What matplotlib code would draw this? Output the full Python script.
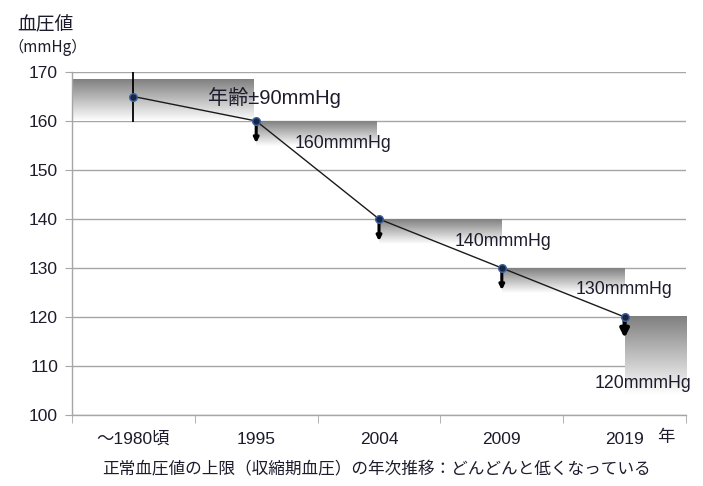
import numpy as np
import matplotlib
matplotlib.use("Agg")
import matplotlib.pyplot as plt

# ---- data ----
categories = ["～1980頃", "1995", "2004", "2009", "2019"]
values = [165, 160, 140, 130, 120]
first_err = 5.2
band_labels = ["年齢±90mmHg", "160mmmHg", "140mmmHg", "130mmmHg", "120mmmHg"]
band_depth = [8.5, 5.0, 5.0, 5.0, 16.0]   # how far the shaded band extends down
arrow_len = [4.5, 4.5, 4.5, 4.3]          # arrows at 1995..2019
y_ticks = [100, 110, 120, 130, 140, 150, 160, 170]
ylabel_main = "血圧値"
ylabel_unit = "（mmHg）"
xunit = "年"
caption = "正常血圧値の上限（収縮期血圧）の年次推移：どんどんと低くなっている"

CJK = ["Noto Sans CJK JP", "DejaVu Sans"]
LAT = ["Liberation Sans", "Noto Sans CJK JP", "DejaVu Sans"]
TXT = "#1c1c2c"

fig = plt.figure(figsize=(7.03, 4.86), dpi=100)
ax = fig.add_axes([72/703, 1-415/486, (686-72)/703, (415-72)/486])

x = np.arange(len(categories))
xmin, xmax = -0.5, len(categories) - 0.5

# gradient bands
grad = np.linspace(0.50, 1.0, 256).reshape(-1, 1)
band_x = [(xmin, 0.98), (1.0, 1.98), (2.0, 3.0), (3.0, 4.0), (4.0, xmax)]
band_top = [168.4] + values[1:]
for (x0, x1), top, d in zip(band_x, band_top, band_depth):
    ax.imshow(grad, cmap="gray", vmin=0, vmax=1, aspect="auto",
              extent=[x0, x1, top - d, top], origin="upper", zorder=1,
              interpolation="bilinear")

# grid
for yv in y_ticks:
    ax.axhline(yv, color="#a6a6a6", lw=1.0, zorder=0.5)

# line + markers
ax.plot(x, values, color="#1a1a1a", lw=1.0, zorder=3)
ax.vlines(x[0], values[0] - first_err, values[0] + first_err, color="black", lw=1.3, zorder=3)
ax.plot(x, values, ls="none", marker="o", ms=5.5, mfc="#1a2540", mec="#3b63a8", mew=1.0, zorder=5)

# arrows
for i, L in enumerate(arrow_len):
    xi = x[i + 1]
    yi = values[i + 1]
    big = (i == len(arrow_len) - 1)
    ax.annotate("", xy=(xi, yi - L), xytext=(xi, yi),
                arrowprops=dict(arrowstyle="-|>", color="black",
                                lw=3.0 if big else 2.2,
                                mutation_scale=12 if big else 7,
                                shrinkA=0, shrinkB=0), zorder=4)

# band labels
label_pos = [(0.607, 164.7), (1.316, 155.5), (2.619, 135.5), (3.604, 125.7), (3.759, 106.5)]
for i, ((lx, ly), t) in enumerate(zip(label_pos, band_labels)):
    ax.text(lx, ly, t, ha="left", va="center", fontsize=14.5 if i == 0 else 12.8,
            family=LAT, color=TXT, zorder=6)

ax.set_xlim(xmin, xmax)
ax.set_ylim(100, 170)

# axes styling
for s in ["top", "right"]:
    ax.spines[s].set_visible(False)
for s in ["left", "bottom"]:
    ax.spines[s].set_color("#a6a6a6")
    ax.spines[s].set_linewidth(1.0)

ax.set_yticks(y_ticks)
ax.set_yticklabels([str(v) for v in y_ticks], family=LAT, fontsize=12.5, color=TXT)
ax.tick_params(axis="y", length=5, color="#a6a6a6", pad=5)

ax.set_xticks(x)
ax.set_xticklabels(categories, family=LAT, fontsize=12.5, color=TXT)
ax.set_xticks(np.arange(xmin, xmax + 0.01, 1.0), minor=True)
ax.tick_params(axis="x", which="major", length=0, pad=12)
ax.tick_params(axis="x", which="minor", length=6, color="#a6a6a6")

# labels
fig.text(17/703, 1-25/486, ylabel_main, family=CJK, fontsize=13.5, color=TXT, ha="left", va="center")
fig.text(8/703, 1-47/486, ylabel_unit, family=CJK, fontsize=11, color=TXT, ha="left", va="center")
fig.text(666/703, 1-437/486, xunit, family=CJK, fontsize=12.5, color=TXT, ha="center", va="center")
fig.text(376/703, 1-470/486, caption, family=CJK, fontsize=12, color=TXT, ha="center", va="center")

fig.savefig("out.png", dpi=100)
